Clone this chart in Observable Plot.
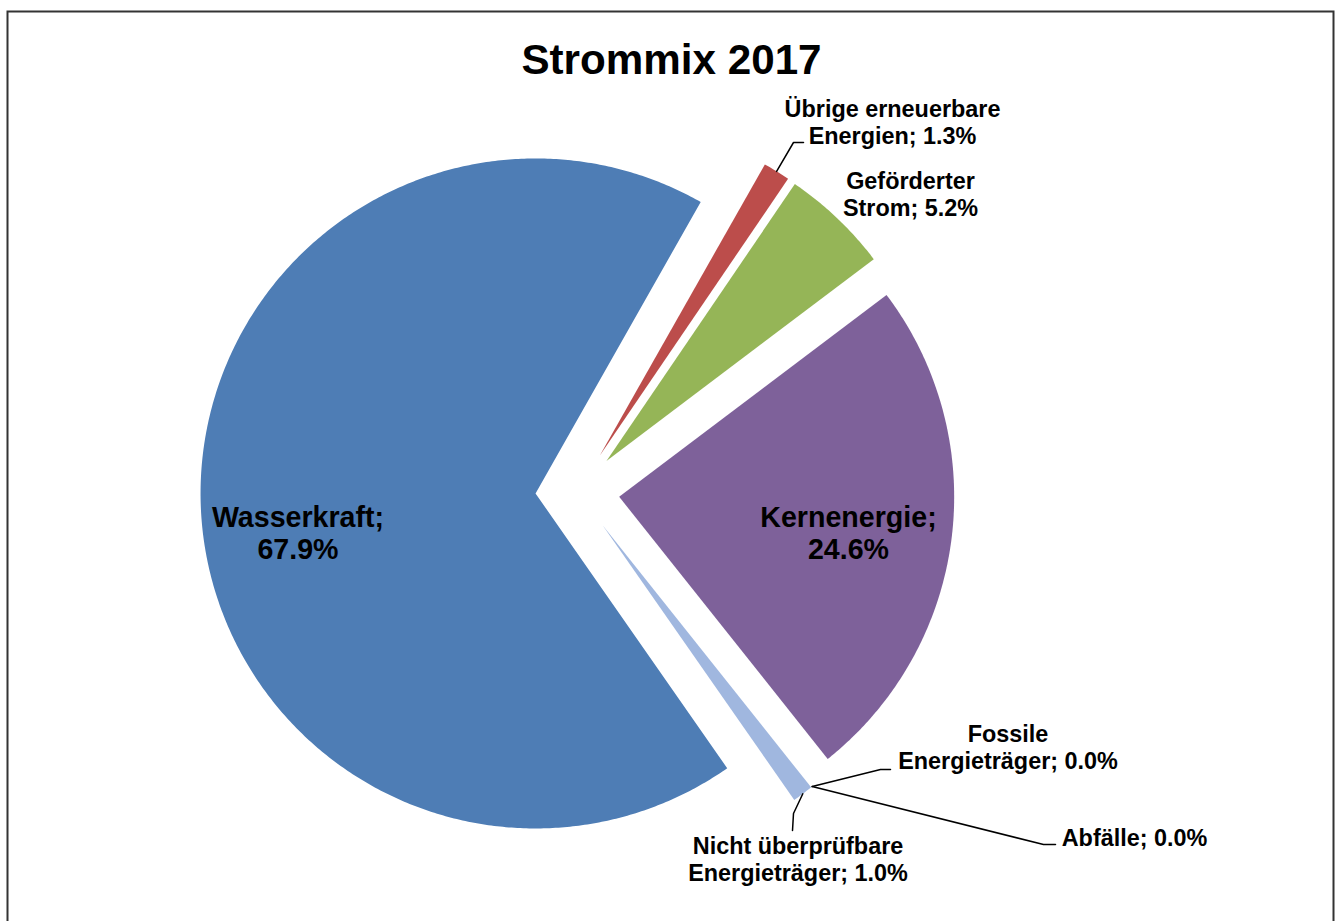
<!DOCTYPE html>
<html><head><meta charset="utf-8">
<script src="https://cdn.jsdelivr.net/npm/d3@7"></script>
<script src="https://cdn.jsdelivr.net/npm/@observablehq/plot@0.6"></script>
<style>html,body{margin:0;padding:0;background:#fff;} svg{display:block;}</style>
</head><body><div id="chart"></div>
<script>
// ---- data ----
const title = "Strommix 2017";
const categories = ["Wasserkraft", "Übrige erneuerbare Energien", "Geförderter Strom", "Kernenergie", "Fossile Energieträger", "Abfälle", "Nicht überprüfbare Energieträger"];
const labelNames = ["Wasserkraft", "Übrige erneuerbare\nEnergien", "Geförderter\nStrom", "Kernenergie", "Fossile\nEnergieträger", "Abfälle", "Nicht überprüfbare\nEnergieträger"];
const shares = [67.9, 1.3, 5.2, 24.6, 0.0, 0.0, 1.0];
const sliceColors = ["#4e7db5", "#bc4d4b", "#95b557", "#7e619a", "#8fa9d6", "#c98f5a", "#a0b7df"];

// ---- layout ----
const W = 1338, H = 921;
const center = [577, 491];
const radius = 335, explode = 42;
const startAngle = 145.1; // degrees clockwise from 12 o'clock
const fontFamily = "Liberation Sans, Arial, Helvetica, sans-serif";
// label anchors (text centre x, last baseline y), inside flag
const labelLayout = [
  {x: 297.5, y: 558, inside: true},
  {x: 892, y: 143, inside: false, leader: [[793, 142], [803, 142]]},
  {x: 910, y: 215, inside: false},
  {x: 848, y: 558, inside: true},
  {x: 1007.5, y: 768, inside: false, leader: [[880, 769], [890, 769]]},
  {x: 1134, y: 845, inside: false, leader: [[1043, 844], [1055, 844]]},
  {x: 797.5, y: 880, inside: false, leader: [[793, 813], [792, 830]]}
];

// ---- geometry from data ----
const rad = Math.PI / 180;
const total = d3.sum(shares);
let acc = startAngle;
const slices = categories.map((name, i) => {
  const a0 = acc, a1 = acc + shares[i] / total * 360;
  acc = a1;
  const mid = (a0 + a1) / 2;
  return {name, i, a0, a1, mid,
    ox: center[0] + explode * Math.sin(mid * rad),
    oy: center[1] - explode * Math.cos(mid * rad)};
});
const slicePts = [];
for (const s of slices) {
  if (s.a1 - s.a0 <= 0) continue;
  slicePts.push({name: s.name, x: s.ox, y: s.oy});
  const n = Math.max(2, Math.ceil((s.a1 - s.a0) / 0.5));
  for (let k = 0; k <= n; k++) {
    const a = (s.a0 + (s.a1 - s.a0) * k / n) * rad;
    slicePts.push({name: s.name, x: s.ox + radius * Math.sin(a), y: s.oy - radius * Math.cos(a)});
  }
}
const leaderPts = [];
slices.forEach((s, i) => {
  const L = labelLayout[i];
  if (!L.leader) return;
  leaderPts.push({name: s.name, x: s.ox + radius * Math.sin(s.mid * rad), y: s.oy - radius * Math.cos(s.mid * rad)});
  for (const [x, y] of L.leader) leaderPts.push({name: s.name, x, y});
});
const labels = slices.map((s, i) => ({
  name: s.name,
  x: labelLayout[i].x, y: labelLayout[i].y, inside: labelLayout[i].inside,
  text: `${labelNames[i]};${labelLayout[i].inside ? "\n" : " "}${shares[i].toFixed(1)}%`
}));

const chart = Plot.plot({
  width: W, height: H,
  marginTop: 0, marginRight: 0, marginBottom: 0, marginLeft: 0,
  x: {domain: [0, W], range: [0, W], axis: null},
  y: {domain: [0, H], range: [0, H], axis: null},
  color: {domain: categories, range: sliceColors},
  style: {fontFamily, background: "#fff"},
  marks: [
    Plot.line(slicePts, {x: "x", y: "y", z: "name", fill: "name", stroke: "none", curve: "linear"}),
    Plot.line(leaderPts, {x: "x", y: "y", z: "name", stroke: "#000", strokeWidth: 1.5}),
    Plot.text(labels.filter(d => d.inside), {x: "x", y: "y", text: "text", fontSize: 28.6, fontWeight: "bold", fontFamily, lineAnchor: "bottom", lineHeight: 1.1, fill: "#000"}),
    Plot.text(labels.filter(d => !d.inside), {x: "x", y: "y", text: "text", fontSize: 23.4, fontWeight: "bold", fontFamily, lineAnchor: "bottom", lineHeight: 1.15, fill: "#000"}),
    Plot.text([title], {frameAnchor: "top", dx: 2, dy: 73, text: d => d, fontSize: 42.2, fontWeight: "bold", fontFamily, lineAnchor: "bottom", fill: "#000"}),
    Plot.frame({stroke: "#333", strokeWidth: 2, insetLeft: 7, insetTop: 11, insetRight: 5, insetBottom: -5})
  ]
});
document.getElementById("chart").appendChild(chart);
</script>
</body></html>
